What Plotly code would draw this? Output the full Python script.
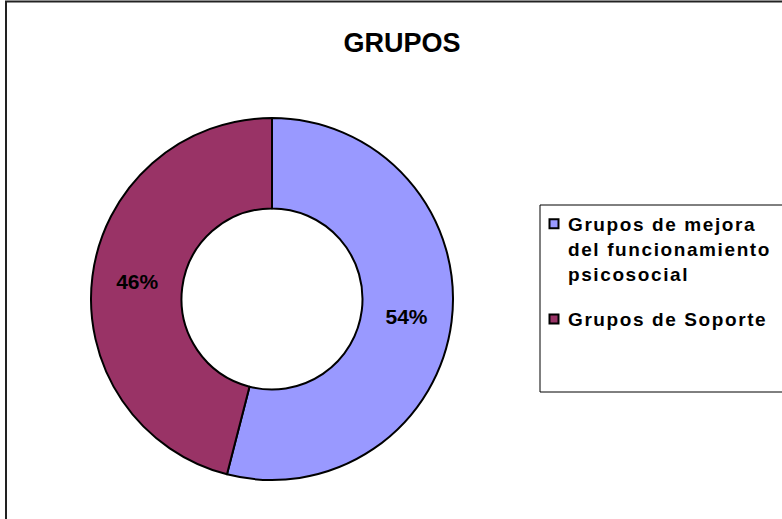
import plotly.graph_objects as go

categories = ["Grupos de mejora<br>del funcionamiento<br>psicosocial", "Grupos de Soporte"]
values = [54, 46]
colors = ["#9999FF", "#993366"]
title_text = "GRUPOS"

W, H = 782, 519
FONT = "Liberation Sans, Arial, sans-serif"

fig = go.Figure(go.Pie(
    labels=categories,
    values=values,
    hole=0.5,
    sort=False,
    direction="clockwise",
    rotation=0,
    marker=dict(colors=colors, line=dict(color="#000000", width=2)),
    textinfo="percent",
    texttemplate="%{percent:.0%}",
    textposition="inside",
    insidetextorientation="horizontal",
    textfont=dict(family=FONT, size=21, color="#000000", weight="bold"),
    domain=dict(x=[91 / W, 453 / W], y=[(H - 480) / H, (H - 118) / H]),
    showlegend=True,
))

fig.update_layout(
    width=W, height=H,
    margin=dict(l=0, r=0, t=0, b=0),
    paper_bgcolor="white",
    plot_bgcolor="white",
    title=dict(text="<b>" + title_text + "</b>", x=402 / W, xanchor="center", y=1 - 43 / H, yanchor="middle",
               font=dict(family=FONT, size=27, color="#000000")),
    legend=dict(
        x=528 / W, xanchor="left", y=1 - 205 / H, yanchor="top",
        bgcolor="rgba(0,0,0,0)", borderwidth=0,
        valign="top",
        font=dict(family=FONT, size=19, color="#000000", weight="bold"),
        traceorder="normal",
    ),
    shapes=[
        dict(type="rect", xref="paper", yref="paper", x0=6 / W, x1=1.05, y0=-0.05, y1=1 - 1.5 / H,
             line=dict(color="#222222", width=2), fillcolor="rgba(0,0,0,0)", layer="below"),
        dict(type="rect", xref="paper", yref="paper", x0=540 / W, x1=1.05, y0=1 - 392 / H, y1=1 - 205 / H,
             line=dict(color="#000000", width=1), fillcolor="rgba(0,0,0,0)", layer="below"),
    ],
)

post_js = """
document.body.style.margin = '0';
function parseT(tr) {
    var m = (tr || '').match(/translate\\(\\s*([-\\d.eE]+)[ ,]*([-\\d.eE]*)\\s*\\)/);
    if (!m) return [0, 0];
    return [parseFloat(m[1]), m[2] === '' ? 0 : parseFloat(m[2])];
}
document.querySelectorAll('.legend [clip-path]').forEach(function (e) {
    e.removeAttribute('clip-path');
});
document.querySelectorAll('.legendtext').forEach(function (t) {
    t.setAttribute('letter-spacing', '1.6px');
});
document.querySelectorAll('.legend .legendpie').forEach(function (p) {
    p.setAttribute('d', 'M4.5,4.5H-4.5V-4.5H4.5Z');
    var t = parseT(p.getAttribute('transform'));
    p.setAttribute('transform', 'translate(' + (t[0] + 6) + ',' + t[1] + ')');
});
var items = document.querySelectorAll('.legend .traces');
if (items.length > 1) {
    var t = parseT(items[1].getAttribute('transform'));
    items[1].setAttribute('transform', 'translate(' + t[0] + ',' + (t[1] + 18) + ')');
}
"""

fig.write_html("out.html", post_script=post_js, config={"displayModeBar": False})
